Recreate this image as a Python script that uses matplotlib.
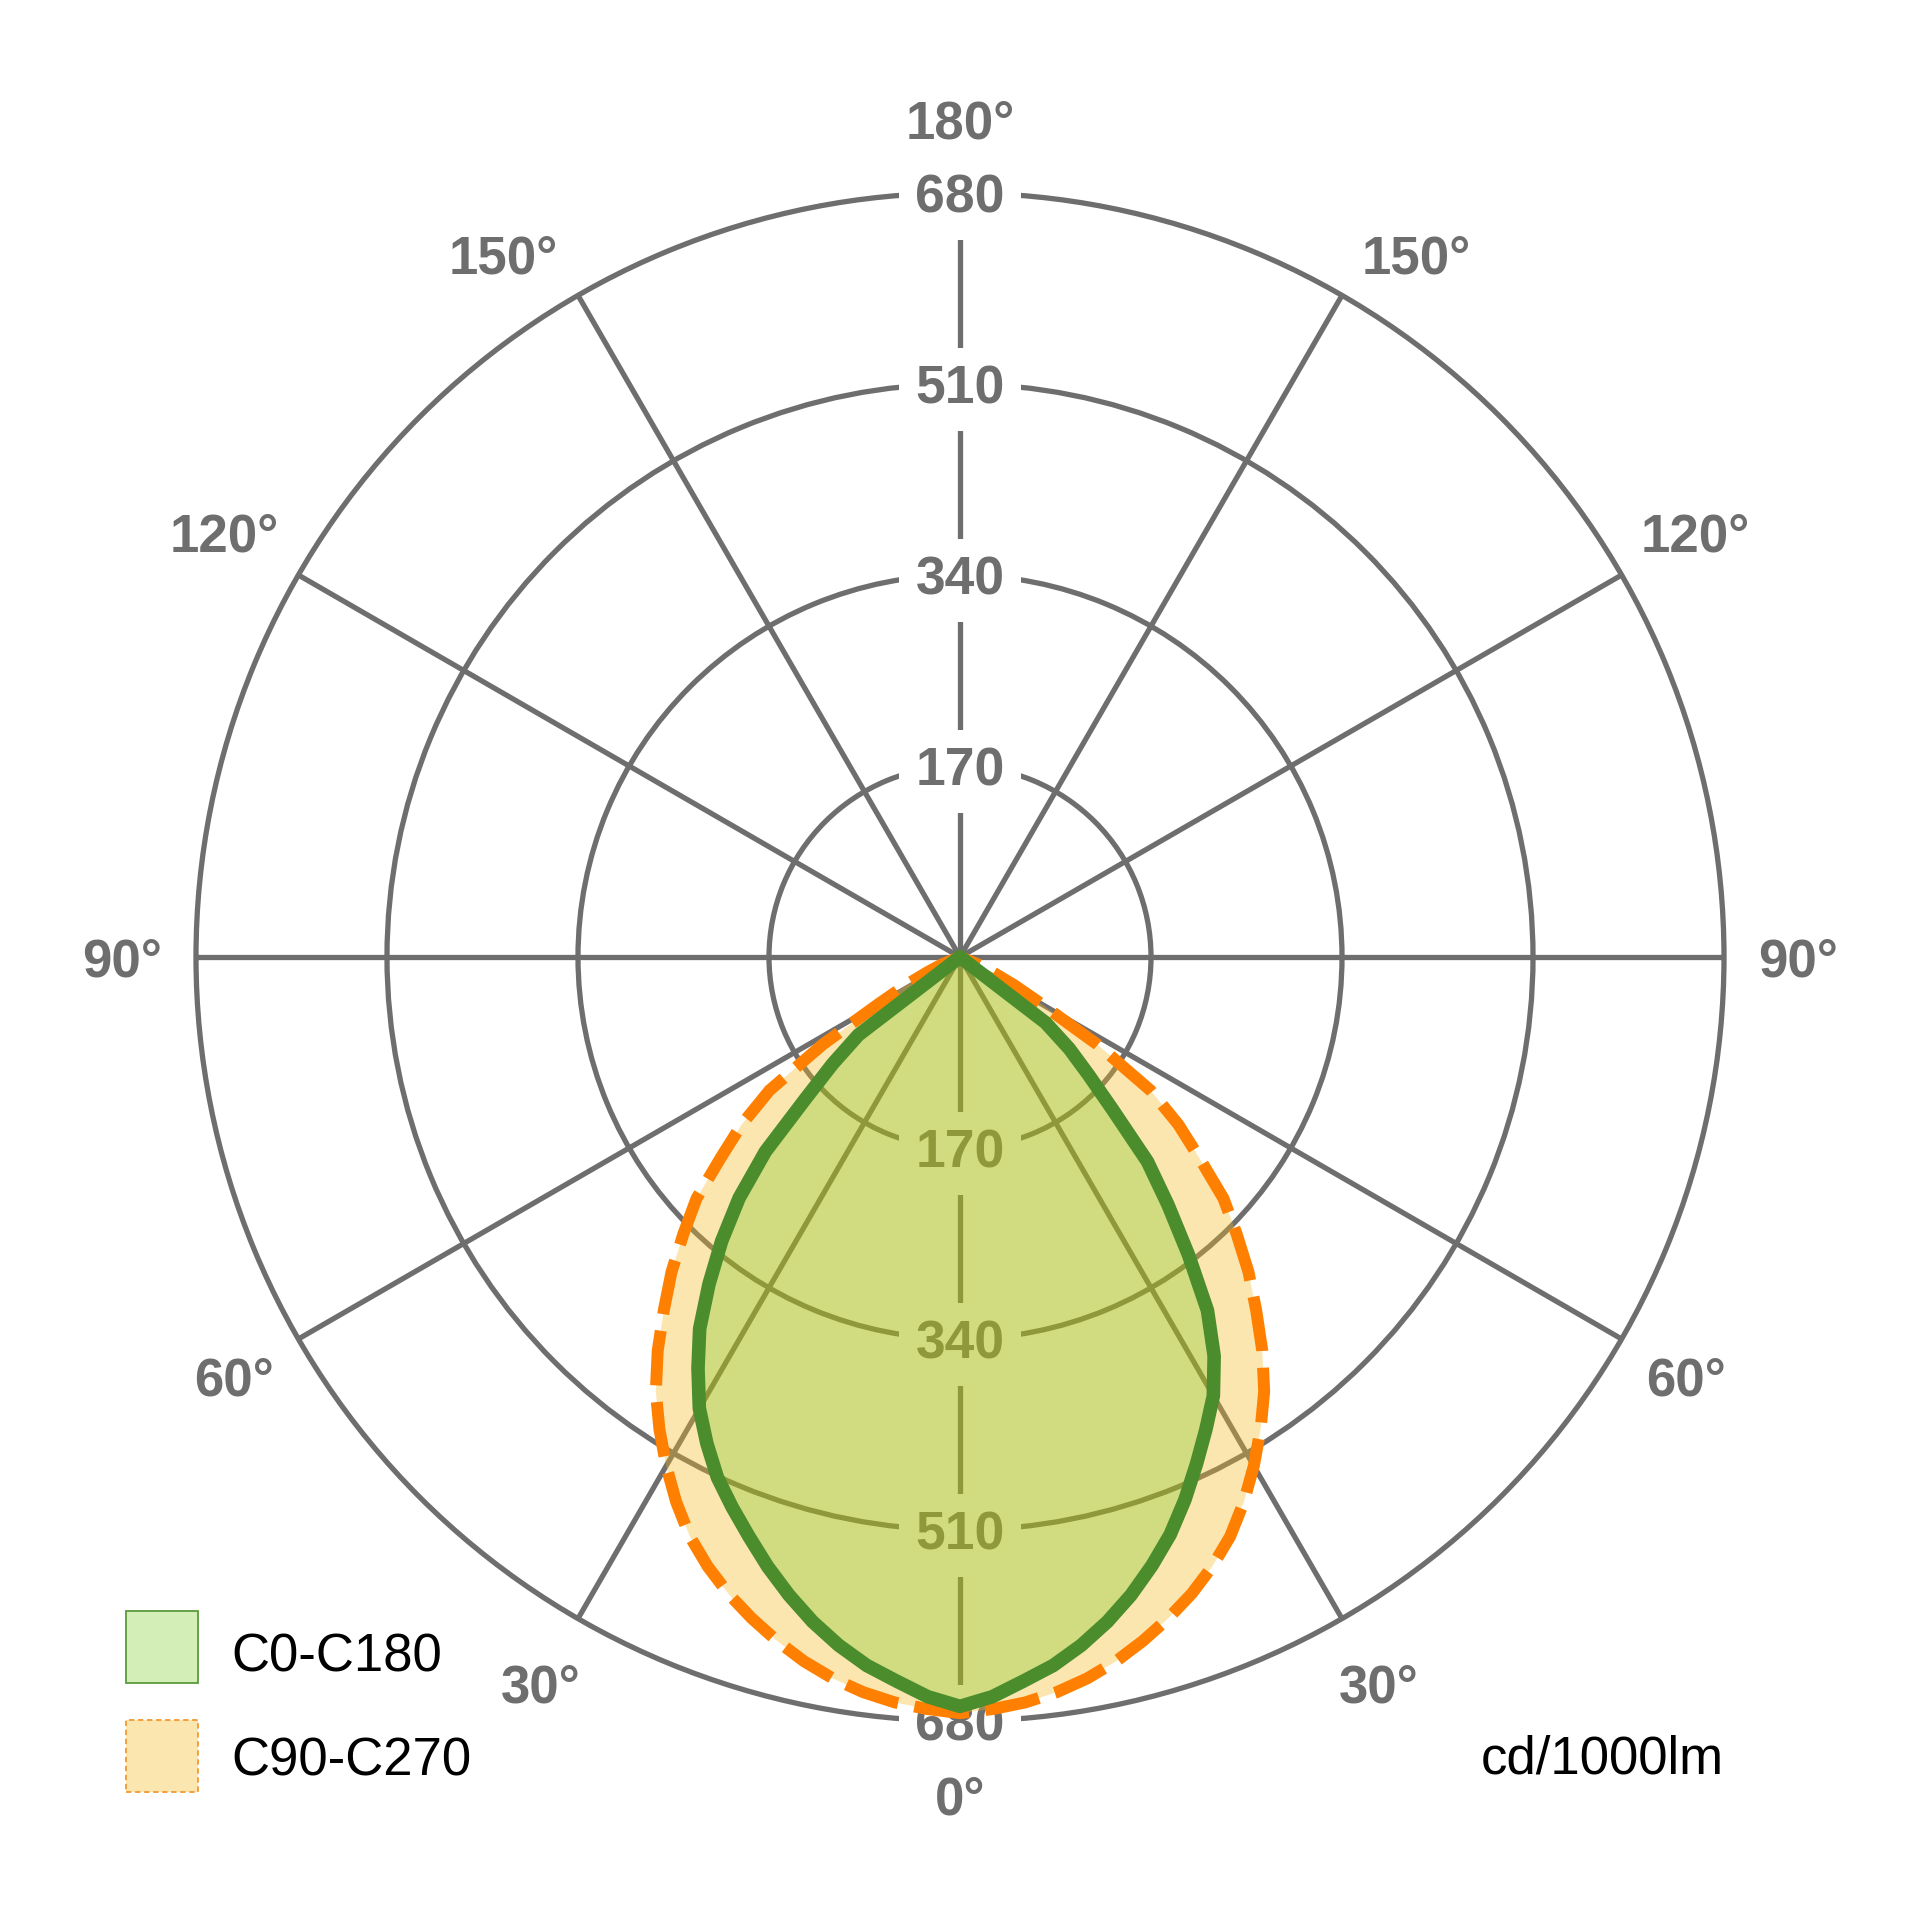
import numpy as np
import matplotlib.pyplot as plt
from matplotlib.colors import to_rgba
from matplotlib.patches import Rectangle

plt.rcParams['font.family'] = ['Liberation Sans', 'DejaVu Sans']

# gamma angles (deg) and intensities in cd/1000lm
gamma = [0, 2.5, 5, 7.5, 10, 12.5, 15, 17.5, 20, 22.5, 25, 27.5, 30, 32.5, 35,
         37.5, 40, 42.5, 45, 47.5, 50, 52.5, 55, 57.5, 60, 62.5, 65, 67.5, 70]
c0 = [667, 659, 647, 636, 622, 606, 588, 568, 547, 523, 498, 474, 451, 421, 384,
      334, 288, 247, 192, 155, 127, 96, 0, 0, 0, 0, 0, 0, 0]
c180 = [667, 659, 647, 636, 622, 606, 588, 569, 549, 530, 511, 488, 464, 434, 404,
        367, 330, 291, 245, 186, 148, 114, 0, 0, 0, 0, 0, 0, 0]
c90 = [673, 670, 666, 660, 652, 642, 630, 617, 603, 587, 569, 547, 523, 498, 472,
       442, 410, 380, 348, 318, 278, 245, 207, 145, 84, 55, 32, 18, 0]
c270 = [673, 670, 666, 660, 652, 642, 630, 617, 603, 587, 569, 547, 523, 498, 472,
        442, 410, 380, 348, 318, 278, 245, 207, 145, 84, 55, 32, 18, 0]

ring_values = [170, 340, 510, 680]
angle_ticks = [0, 30, 60, 90, 120, 150, 180]
series_names = ['C0-C180', 'C90-C270']
unit_label = 'cd/1000lm'

GREY = '#6e6e6e'
GREEN_LINE = '#4b8d2d'
GREEN_FILL = to_rgba('#6bc60c', 0.29)
ORANGE_LINE = '#ff8000'
ORANGE_FILL = to_rgba('#f9ba1d', 0.35)

W, H = 1919, 1920
cx, cy, R = 960, 957, 764

fig = plt.figure(figsize=(W / 100, H / 100), dpi=100)
ax = fig.add_axes([(cx - R) / W, (H - cy - R) / H, 2 * R / W, 2 * R / H], projection='polar')
ax.set_theta_zero_location('S')
ax.set_theta_direction(1)
ax.set_ylim(0, ring_values[-1])
ax.set_yticks(ring_values[:-1])
ax.set_xticks(np.radians(np.arange(0, 360, 30)))
ax.set_xticklabels([])
ax.set_yticklabels([])
ax.tick_params(length=0)
ax.set_axisbelow(True)
ax.grid(True, color=GREY, lw=3.8)
ax.spines['polar'].set_color(GREY)
ax.spines['polar'].set_linewidth(3.8)
ax.spines['polar'].set_zorder(1)

# ring labels on the vertical axis, top and bottom
for rv in ring_values:
    for th in (0, np.pi):
        ax.text(th, rv, str(rv), ha='center', va='center_baseline', fontsize=38.5,
                fontweight='bold', color=GREY, zorder=2,
                bbox=dict(boxstyle='square,pad=0.3', fc='white', ec='none'))

# angle labels round the outside
for a in angle_ticks:
    pos = 147 if a == 150 else a
    rad = 756 if a == 120 else 746
    sides = [pos] if a in (0, 180) else [pos, -pos]
    for s in sides:
        ax.text(np.radians(s), rad, f'{a}°', ha='center', va='center_baseline',
                fontsize=38, fontweight='bold', color=GREY, zorder=2)

g = np.radians(gamma)
theta = np.concatenate([-g[::-1], g[1:]])
r_green = np.concatenate([np.array(c180)[::-1], np.array(c0)[1:]])
r_orange = np.concatenate([np.array(c270)[::-1], np.array(c90)[1:]])

ax.fill(theta, r_orange, fc=ORANGE_FILL, lw=0, zorder=3)
ax.fill(theta, r_green, fc=GREEN_FILL, lw=0, zorder=3.1)
ax.plot(theta, r_orange, color=ORANGE_LINE, lw=8.6, dashes=(4.6, 1.4),
        zorder=4, clip_on=False, dash_joinstyle='round')
ax.plot(theta, r_green, color=GREEN_LINE, lw=9.8, zorder=5, clip_on=False,
        solid_joinstyle='round', solid_capstyle='round')

# legend
fig.add_artist(Rectangle((126 / W, (H - 1683) / H), 72 / W, 72 / H, transform=fig.transFigure,
                         fc=GREEN_FILL, ec='#5a9a3c', lw=1.3))
fig.add_artist(Rectangle((126 / W, (H - 1792) / H), 72 / W, 72 / H, transform=fig.transFigure,
                         fc=ORANGE_FILL, ec='#f39a30', lw=1.3, ls=(0, (3, 2))))
fig.text(231 / W, (H - 1671) / H, series_names[0], fontsize=38, color='black', va='baseline')
fig.text(231 / W, (H - 1775) / H, series_names[1], fontsize=38, color='black', va='baseline')
fig.text(1724 / W, (H - 1774) / H, unit_label, fontsize=38, color='black', va='baseline', ha='right')

fig.savefig('out.png', dpi=100, facecolor='white')
